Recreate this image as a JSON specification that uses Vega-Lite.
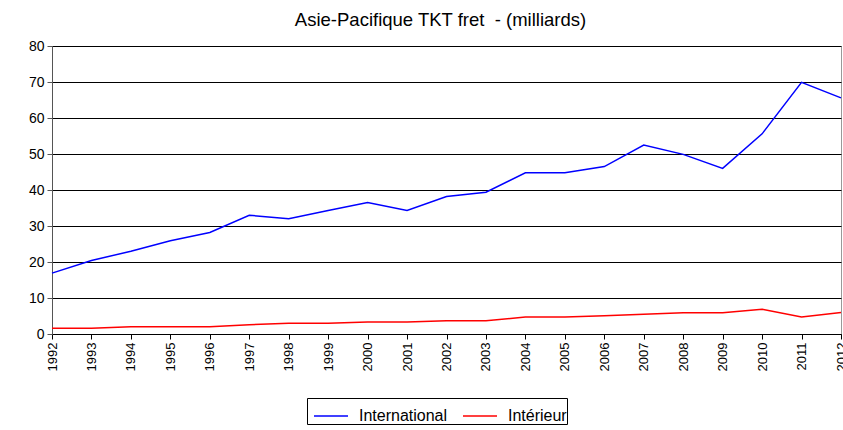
{
  "$schema": "https://vega.github.io/schema/vega-lite/v6.json",
  "width": 789,
  "height": 288,
  "autosize": {"type": "none"},
  "padding": {"left": 52, "top": 46, "right": 2, "bottom": 96},
  "background": "white",
  "title": {
    "text": "Asie-Pacifique TKT fret \u00a0- (milliards)",
    "font": "Liberation Sans",
    "fontSize": 18.5,
    "fontWeight": "normal",
    "color": "#000000",
    "anchor": "middle",
    "offset": 10,
    "dx": -6
  },
  "config": {
    "view": {"stroke": "#999999", "strokeWidth": 1},
    "font": "Liberation Sans"
  },
  "data": {
    "values": [
      {"year": "1992", "series": "International", "value": 16.9},
      {"year": "1993", "series": "International", "value": 20.4},
      {"year": "1994", "series": "International", "value": 23.0},
      {"year": "1995", "series": "International", "value": 25.9},
      {"year": "1996", "series": "International", "value": 28.2},
      {"year": "1997", "series": "International", "value": 33.0},
      {"year": "1998", "series": "International", "value": 32.0},
      {"year": "1999", "series": "International", "value": 34.3},
      {"year": "2000", "series": "International", "value": 36.5},
      {"year": "2001", "series": "International", "value": 34.3},
      {"year": "2002", "series": "International", "value": 38.2},
      {"year": "2003", "series": "International", "value": 39.4},
      {"year": "2004", "series": "International", "value": 44.8},
      {"year": "2005", "series": "International", "value": 44.8},
      {"year": "2006", "series": "International", "value": 46.5},
      {"year": "2007", "series": "International", "value": 52.5},
      {"year": "2008", "series": "International", "value": 49.9},
      {"year": "2009", "series": "International", "value": 46.0},
      {"year": "2010", "series": "International", "value": 55.6},
      {"year": "2011", "series": "International", "value": 69.9},
      {"year": "2012", "series": "International", "value": 65.6},
      {"year": "1992", "series": "Intérieur", "value": 1.6},
      {"year": "1993", "series": "Intérieur", "value": 1.6},
      {"year": "1994", "series": "Intérieur", "value": 2.0},
      {"year": "1995", "series": "Intérieur", "value": 2.0},
      {"year": "1996", "series": "Intérieur", "value": 2.0},
      {"year": "1997", "series": "Intérieur", "value": 2.6},
      {"year": "1998", "series": "Intérieur", "value": 3.0},
      {"year": "1999", "series": "Intérieur", "value": 3.0},
      {"year": "2000", "series": "Intérieur", "value": 3.3},
      {"year": "2001", "series": "Intérieur", "value": 3.3},
      {"year": "2002", "series": "Intérieur", "value": 3.7},
      {"year": "2003", "series": "Intérieur", "value": 3.7},
      {"year": "2004", "series": "Intérieur", "value": 4.7},
      {"year": "2005", "series": "Intérieur", "value": 4.7},
      {"year": "2006", "series": "Intérieur", "value": 5.1},
      {"year": "2007", "series": "Intérieur", "value": 5.5},
      {"year": "2008", "series": "Intérieur", "value": 5.9},
      {"year": "2009", "series": "Intérieur", "value": 5.9},
      {"year": "2010", "series": "Intérieur", "value": 6.9},
      {"year": "2011", "series": "Intérieur", "value": 4.7},
      {"year": "2012", "series": "Intérieur", "value": 6.0}
    ]
  },
  "mark": {"type": "line", "strokeWidth": 1.5},
  "encoding": {
    "x": {
      "field": "year",
      "type": "ordinal",
      "scale": {"type": "point", "padding": 0},
      "axis": {
        "title": null,
        "labelAngle": -90,
        "labelFontSize": 13,
        "labelColor": "#000000",
        "labelPadding": 3,
        "domainColor": "#000000",
        "tickColor": "#000000",
        "tickSize": 5,
        "grid": false
      }
    },
    "y": {
      "field": "value",
      "type": "quantitative",
      "scale": {"domain": [0, 80], "nice": false},
      "axis": {
        "title": null,
        "values": [0, 10, 20, 30, 40, 50, 60, 70, 80],
        "labelFontSize": 14,
        "labelColor": "#000000",
        "labelPadding": 3,
        "domainColor": "#555555",
        "tickColor": "#555555",
        "tickSize": 5,
        "grid": true,
        "gridColor": "#000000",
        "gridOpacity": 1,
        "gridWidth": 1
      }
    },
    "color": {
      "field": "series",
      "type": "nominal",
      "scale": {"domain": ["International", "Intérieur"], "range": ["#0000FF", "#FF0000"]},
      "legend": {
        "title": null,
        "orient": "none",
        "legendX": 255,
        "legendY": 352,
        "direction": "horizontal",
        "symbolType": "stroke",
        "symbolSize": 1156,
        "symbolStrokeWidth": 1.5,
        "symbolOffset": 6,
        "labelFontSize": 16,
        "labelOffset": 10,
        "labelColor": "#000000",
        "columnPadding": 8,
        "padding": 0,
        "strokeColor": "#000000",
        "fillColor": "white"
      }
    }
  }
}
